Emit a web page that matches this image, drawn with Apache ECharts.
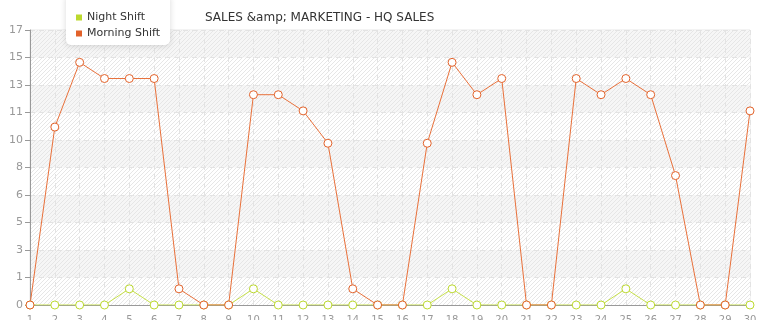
<!DOCTYPE html>
<html>
<head>
<meta charset="utf-8">
<script src="https://cdn.jsdelivr.net/npm/echarts@6/dist/echarts.min.js"></script>
<style>
html,body{margin:0;padding:0;background:#fff;}
#main{width:765px;height:320px;}
</style>
</head>
<body>
<div id="main"></div>
<script>
var titleText = 'SALES &amp; MARKETING - HQ SALES';
var categories = ['1','2','3','4','5','6','7','8','9','10','11','12','13','14','15','16','17','18','19','20','21','22','23','24','25','26','27','28','29','30'];
var nightShift = [0,0,0,0,1,0,0,0,0,1,0,0,0,0,0,0,0,1,0,0,0,0,0,0,1,0,0,0,0,0];
var morningShift = [0,11,15,14,14,14,1,0,0,13,13,12,10,1,0,0,10,15,13,14,0,0,14,13,14,13,8,0,0,12];
var yMax = 17;
var yInterval = 1.7;
var nightColor = '#bcd92e';
var morningColor = '#e2622a';

function makeHatch(bg){
  var s = 4;
  var c = document.createElement('canvas');
  c.width = s; c.height = s;
  var ctx = c.getContext('2d');
  ctx.fillStyle = bg;
  ctx.fillRect(0,0,s,s);
  ctx.strokeStyle = '#e6e6e6';
  ctx.lineWidth = 1;
  ctx.beginPath();
  ctx.moveTo(-1, s+1); ctx.lineTo(s+1, -1);
  ctx.moveTo(-1, 1); ctx.lineTo(1, -1);
  ctx.moveTo(s-1, s+1); ctx.lineTo(s+1, s-1);
  ctx.stroke();
  return c;
}
var hatchWhite = {image: makeHatch('#ffffff'), repeat: 'repeat'};
var hatchGray = {image: makeHatch('#f6f6f6'), repeat: 'repeat'};

var chart = echarts.init(document.getElementById('main'));
chart.setOption({
  animation: false,
  backgroundColor: '#ffffff',
  title: {
    text: titleText,
    left: 200, top: 7,
    textStyle: {fontFamily: 'DejaVu Sans', fontSize: 12, fontWeight: 'normal', color: '#333'}
  },
  legend: {
    data: [
      {name: 'Night Shift', itemStyle: {color: nightColor, borderWidth: 0}},
      {name: 'Morning Shift', itemStyle: {color: morningColor, borderWidth: 0}}
    ],
    orient: 'vertical',
    left: 66, top: -6,
    icon: 'rect',
    itemWidth: 6, itemHeight: 6, itemGap: 5,
    padding: [18, 10, 6, 10],
    backgroundColor: '#ffffff',
    borderRadius: 5,
    shadowBlur: 6, shadowColor: 'rgba(0,0,0,0.15)', shadowOffsetY: 1,
    textStyle: {fontFamily: 'DejaVu Sans', fontSize: 11, color: '#333', lineHeight: 11}
  },
  grid: {left: 30, right: 15, top: 30, bottom: 15, outerBoundsMode: 'none', containLabel: false,
    show: true, borderColor: '#e6e6e6', borderWidth: 1, backgroundColor: 'transparent'},
  xAxis: {
    type: 'category',
    data: categories,
    boundaryGap: false,
    axisLine: {lineStyle: {color: '#999'}},
    axisTick: {show: false},
    axisLabel: {color: '#999', fontFamily: 'DejaVu Sans', fontSize: 10, margin: 10, interval: 0},
    splitLine: {show: true, lineStyle: {color: '#e3e3e3', type: [5,4]}}
  },
  yAxis: {
    type: 'value',
    min: 0, max: yMax, interval: yInterval,
    axisLine: {show: true, lineStyle: {color: '#999'}},
    axisTick: {show: true, length: 5, lineStyle: {color: '#999'}},
    axisLabel: {color: '#999', fontFamily: 'DejaVu Sans', fontSize: 11, margin: 7,
      formatter: function(v){ return String(Math.floor(v + 1e-6)); }},
    splitLine: {show: true, lineStyle: {color: '#e3e3e3', type: [5,4]}},
    splitArea: {show: true, areaStyle: {color: [hatchWhite, hatchGray]}}
  },
  series: [
    {name: 'Night Shift', type: 'line', data: nightShift,
     symbol: 'circle', symbolSize: 8, lineStyle: {width: 1, color: '#c6e04a'},
     itemStyle: {color: '#ffffff', borderColor: nightColor, borderWidth: 1}},
    {name: 'Morning Shift', type: 'line', data: morningShift,
     symbol: 'circle', symbolSize: 8, lineStyle: {width: 1, color: '#e8703a'},
     itemStyle: {color: '#ffffff', borderColor: morningColor, borderWidth: 1}}
  ]
});
</script>
</body>
</html>
